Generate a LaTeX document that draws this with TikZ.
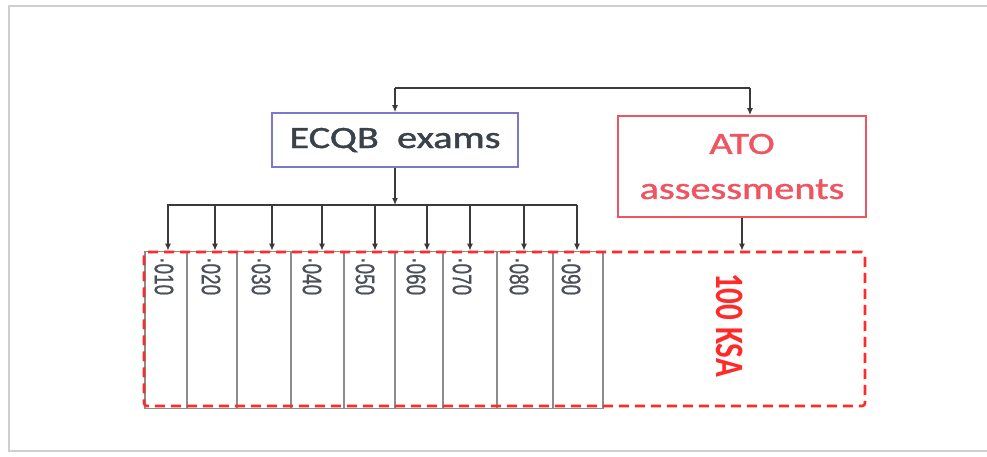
\documentclass[tikz,border=0pt]{standalone}
\usepackage{fontspec}
\setmainfont{Carlito}
\newfontfamily\labfont[FakeBold=0.8]{Liberation Sans}
\newfontfamily\boxfont[FakeBold=1.2]{Carlito}
\usetikzlibrary{arrows.meta,calc}
\definecolor{conn}{HTML}{3A3A3A}
\definecolor{ecqbline}{HTML}{7B78CC}
\definecolor{ecqbtext}{HTML}{3A414A}
\definecolor{labtext}{HTML}{4A4F58}
\definecolor{atored}{HTML}{EE5560}
\definecolor{dashred}{HTML}{FF2A2A}
\definecolor{colgray}{HTML}{8C8C8C}
\definecolor{framegray}{HTML}{CFCFCF}
\tikzset{
  conline/.style={draw=conn, line width=1.6pt},
  conarrow/.style={conline, -{Latex[length=7pt,width=6pt]}},
  ecqbbox/.style={draw=ecqbline, line width=1.5pt, minimum width=246pt, minimum height=54pt, inner sep=0pt, text=ecqbtext, font=\boxfont\fontsize{31}{37}\selectfont},
  atobox/.style={draw=atored, line width=1.5pt, minimum width=248pt, minimum height=101pt, inner sep=0pt, text=atored, align=center, font=\boxfont\fontsize{31}{45}\selectfont},
  colbox/.style={draw=colgray, line width=1.6pt, inner sep=0pt},
  collabel/.style={rotate=-90, anchor=west, inner sep=0pt, text=labtext, font=\labfont\fontsize{19}{19}\selectfont},
  ksalabel/.style={rotate=-90, inner sep=0pt, text=dashred, font=\bfseries\fontsize{31}{31}\selectfont},
  dashbox/.style={draw=dashred, line width=2.6pt, dash pattern=on 10pt off 6pt, rounded corners=3pt}
}
\begin{document}
\begin{tikzpicture}[x=1pt,y=-1pt]
\useasboundingbox (0,0) rectangle (987,457);
% outer frame
\draw[framegray, line width=2.5pt] (995,6) -- (9,6) -- (9,451) -- (995,451);
% top boxes
\node[ecqbbox] (ecqb) at (395,140) {\scalebox{1.3}[1]{ECQB\ \ exams}};
\node[atobox] (ato) at (742,166.5) {\scalebox{1.3}[1]{ATO}\\\scalebox{1.3}[1]{assessments}};
% top connector
\coordinate (tl) at (395,88);
\coordinate (tr) at (750,88);
\draw[conline] (tl) -- (tr);
\draw[conarrow] (tl) -- (ecqb.north);
\draw[conarrow] (tr) -- (tr |- ato.north);
% columns
\foreach \i/\a/\b in {1/145/187,2/187/237,3/237/291,4/291/344,5/344/395,6/395/443,7/443/497,8/497/553,9/553/603}{
  \node[colbox, minimum width={\b-\a}, minimum height=157pt] (c\i) at ({(\a+\b)/2},330) {};
}
% branch
\coordinate (br) at (395,205);
\draw[conarrow] (ecqb.south) -- (br);
\coordinate (bl) at (167,205);
\coordinate (brr) at (577,205);
\draw[conline] (bl) -- (brr);
\foreach \i/\x in {1/168,2/215,3/272,4/322,5/375,6/427,7/470,8/524,9/577}{
  \coordinate (b\i) at (\x,205);
  \draw[conarrow] (b\i) -- (b\i |- c\i.north);
}
% labels
\foreach \i/\x/\t in {1/164/010,2/211/020,3/261/030,4/312/040,5/365/050,6/416/060,7/462/070,8/519/080,9/571/090}{
  \node[collabel] (l\i) at (\x,257) {\scalebox{1}[1.4]{·\t}};
}
% KSA dashed region
\node[dashbox, minimum width=721pt, minimum height=154pt, inner sep=0pt] (ksa) at (504.5,329) {};
\draw[conarrow] (ato.south) -- (ato.south |- ksa.north);
\node[ksalabel] (ksatext) at (730,325) {\scalebox{1}[1.3]{100 KSA}};
\end{tikzpicture}
\end{document}
